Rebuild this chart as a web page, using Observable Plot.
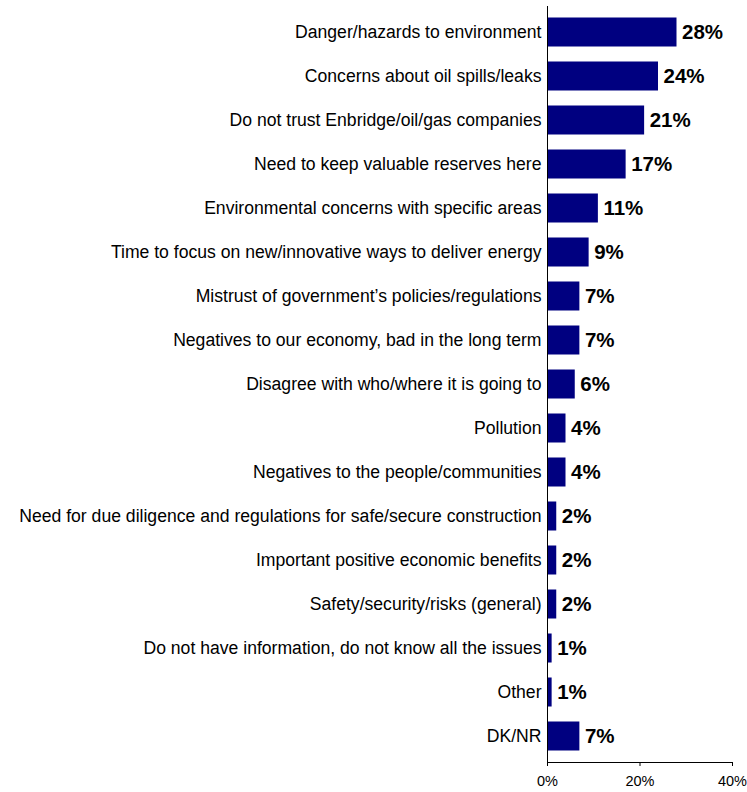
<!DOCTYPE html>
<html>
<head>
<meta charset="utf-8">
<script src="https://cdn.jsdelivr.net/npm/d3@7"></script>
<script src="https://cdn.jsdelivr.net/npm/@observablehq/plot@0.6"></script>
<style>
  html, body { margin: 0; padding: 0; background: #fff; }
  #chart { width: 747px; height: 792px; }
  svg { display: block; }
</style>
</head>
<body>
<div id="chart"></div>
<script>
const categories = [
  "Danger/hazards to environment",
  "Concerns about oil spills/leaks",
  "Do not trust Enbridge/oil/gas companies",
  "Need to keep valuable reserves here",
  "Environmental concerns with specific areas",
  "Time to focus on new/innovative ways to deliver energy",
  "Mistrust of government\u2019s policies/regulations",
  "Negatives to our economy, bad in the long term",
  "Disagree with who/where it is going to",
  "Pollution",
  "Negatives to the people/communities",
  "Need for due diligence and regulations for safe/secure construction",
  "Important positive economic benefits",
  "Safety/security/risks (general)",
  "Do not have information, do not know all the issues",
  "Other",
  "DK/NR"
];
const values = [28, 24, 21, 17, 11, 9, 7, 7, 6, 4, 4, 2, 2, 2, 1, 1, 7];
const xTicks = [0, 20, 40];

const data = categories.map((c, i) => ({category: c, value: values[i]}));

const chart = Plot.plot({
  width: 747,
  height: 792,
  marginTop: 6,
  marginBottom: 30,
  marginLeft: 547,
  marginRight: 15,
  style: {fontFamily: "'Liberation Sans', Arial, sans-serif", color: "#000", background: "#fff"},
  x: {domain: [0, 40], axis: null},
  y: {domain: categories, padding: 0, axis: null},
  marks: [
    Plot.barX(data, {y: "category", x: "value", fill: "#000080", insetTop: 7.5, insetBottom: 7.5}),
    Plot.text(data, {
      y: "category", x: "value", text: d => d.value + "%",
      textAnchor: "start", dx: 5, fontSize: 20.5, fontWeight: "bold", fill: "#000"
    }),
    Plot.axisY({tickSize: 0, tickPadding: 6, fontSize: 17.6, label: null}),
    Plot.axisX({ticks: xTicks, tickFormat: d => d + "%", tickSize: 4, tickPadding: 9, fontSize: 14.5, label: null}),
    Plot.frame({anchor: "left", stroke: "#000"}),
    Plot.frame({anchor: "bottom", stroke: "#000"})
  ]
});
document.getElementById("chart").appendChild(chart);
</script>
</body>
</html>
